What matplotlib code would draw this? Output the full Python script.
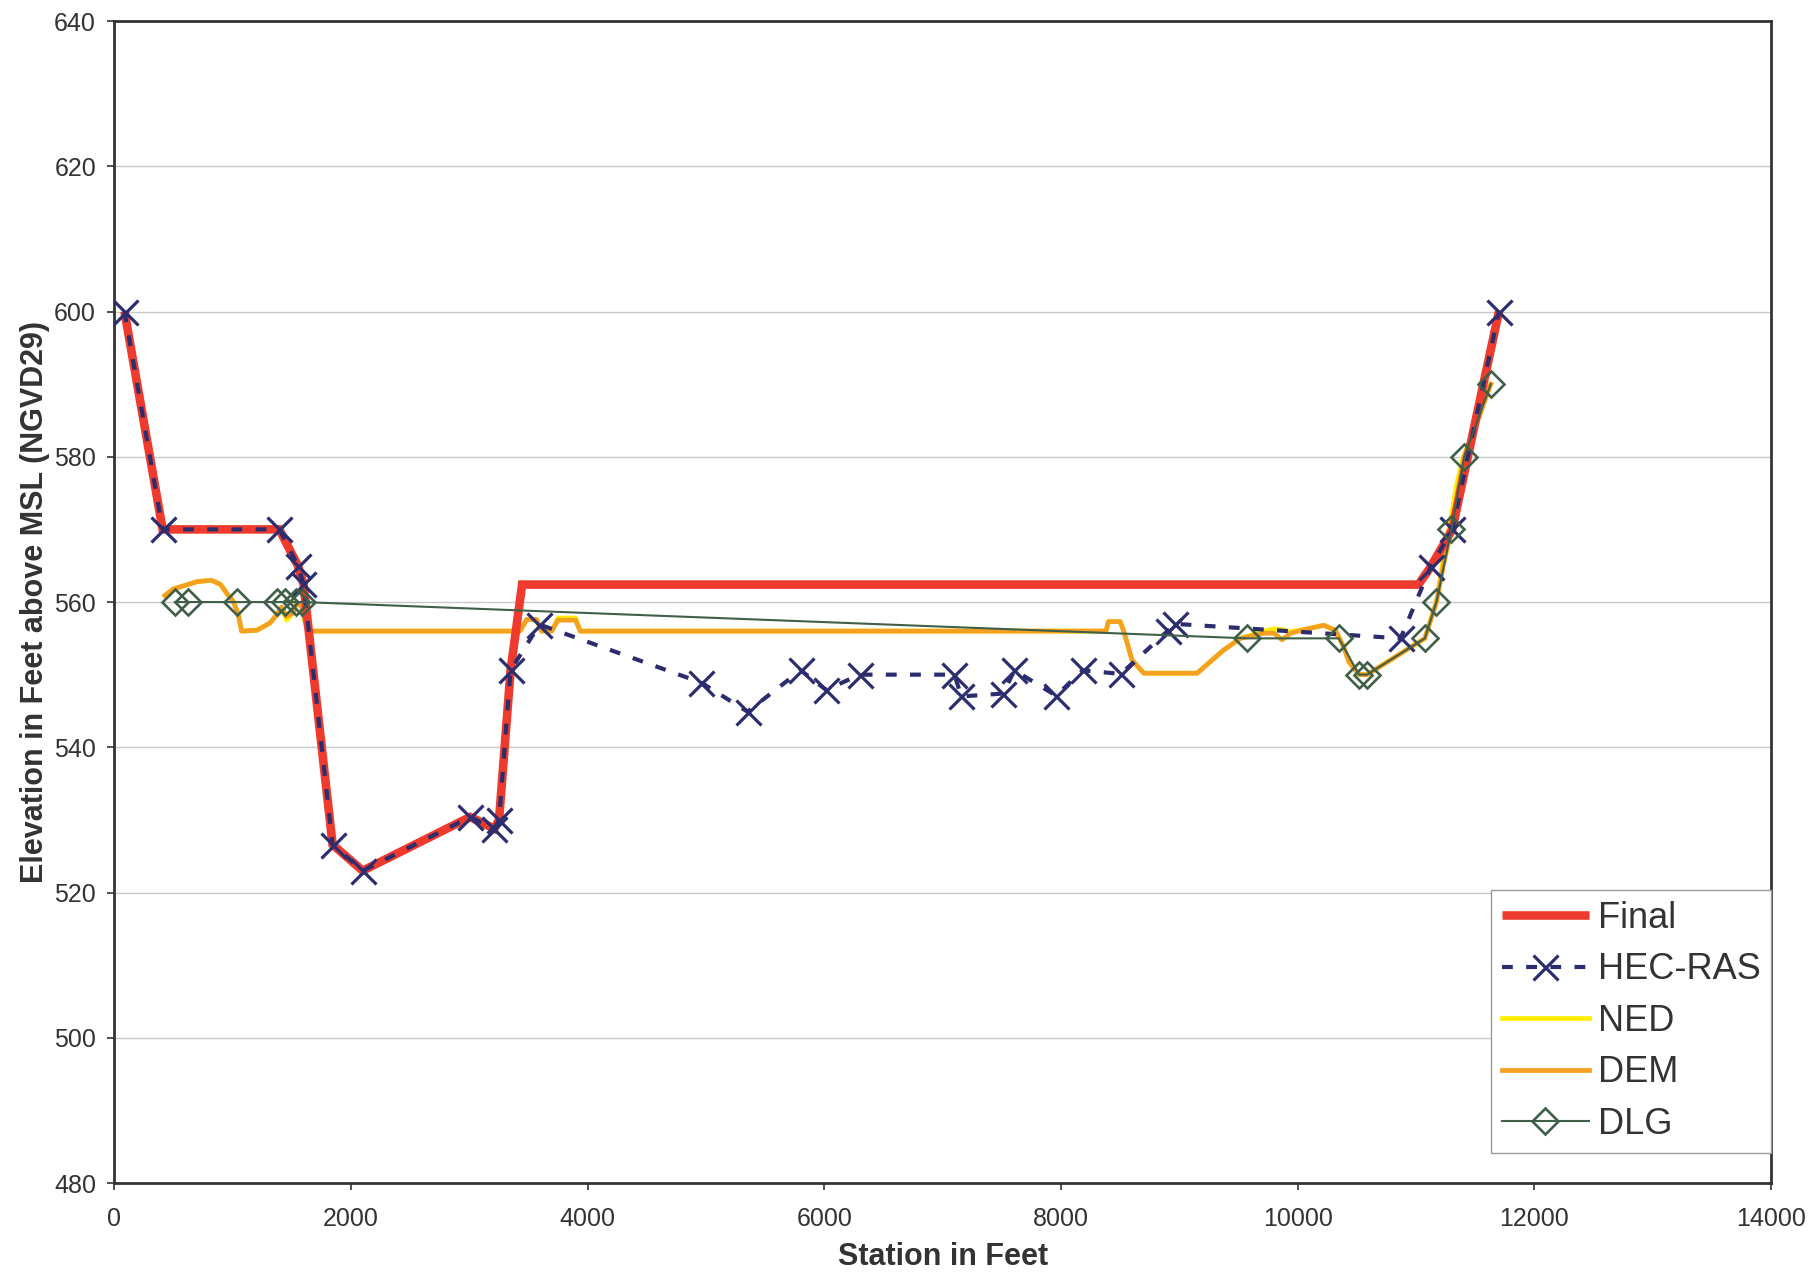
import matplotlib
matplotlib.use("Agg")
import matplotlib.pyplot as plt

plt.rcParams['font.family'] = ['Liberation Sans', 'DejaVu Sans']

# ---- data ----
final_x = [88, 410, 1396, 1553, 1600, 1846, 2100, 3008, 3213, 3252, 3350, 3447,
           11020, 11122, 11306, 11700]
final_y = [600, 570, 570, 565, 562.5, 526.6, 523, 530.4, 528.8, 530, 550.6, 562.4,
           562.4, 564.8, 570, 600]

hec_x = [88, 410, 1396, 1553, 1600, 1846, 2100, 3008, 3213, 3252, 3350, 3594,
         4961, 5352, 5801, 6016, 6299, 7100, 7158, 7510, 7607, 7959, 8184, 8506,
         8900, 8960, 10869, 11122, 11306, 11700]
hec_y = [600, 570, 570, 565, 562.5, 526.6, 523, 530.4, 528.8, 530, 550.6, 556.9,
         548.9, 544.9, 550.6, 547.9, 550, 550, 547, 547.4, 550.6, 547.1, 550.6, 550.1,
         556.0, 557.0, 555, 564.8, 570, 600]

dem_x = [429, 500, 600, 700, 823, 900, 960, 1003, 1048, 1077, 1204, 1316, 1373,
         1415, 1457, 1513, 1541, 1580, 1626, 1654, 3430, 3486, 3570, 3610, 3697,
         3750, 3900, 3937, 8380, 8400, 8500, 8530, 8600, 8700, 9150, 9375, 9516,
         9713, 9800, 9868, 9938, 10079, 10220, 10319, 10389, 10431, 10518, 10586,
         11074, 11172, 11230, 11299, 11350, 11406, 11520, 11631]
dem_y = [560.9, 561.8, 562.3, 562.8, 563.0, 562.4, 561.0, 560.2, 558.4, 556.0,
         556.1, 557.1, 558.2, 559.3, 558.0, 558.5, 559.8, 559.5, 556.6, 556.0,
         556.0, 557.6, 557.6, 556.0, 556.0, 557.5, 557.5, 556.0, 556.0, 557.3,
         557.3, 556.0, 552.0, 550.2, 550.2, 553.4, 555.0, 555.7, 555.7, 554.8,
         555.7, 556.3, 556.8, 556.1, 553.8, 551.8, 550.0, 550.0, 555.0, 560.0,
         565.0, 570.0, 575.0, 580.0, 585.0, 590.0]

ned_x = [429, 500, 600, 700, 823, 900, 960, 1003, 1048, 1077, 1204, 1316, 1373,
         1415, 1457, 1513, 1541, 1580, 1626, 1654, 3430, 3486, 3570, 3610, 3697,
         3750, 3900, 3937, 8380, 8400, 8500, 8530, 8600, 8700, 9150, 9375, 9516,
         9713, 9800, 9868, 9938, 10079, 10220, 10319, 10389, 10431, 10518, 10586,
         11074, 11172, 11230, 11290, 11340, 11400, 11520, 11631]
ned_y = [560.9, 561.8, 562.3, 562.8, 563.0, 562.4, 561.0, 560.2, 558.4, 556.0,
         556.1, 557.1, 558.2, 559.3, 557.5, 558.5, 559.8, 559.5, 556.6, 556.0,
         556.0, 557.6, 557.6, 556.0, 556.0, 557.8, 557.8, 556.0, 556.0, 557.3,
         557.3, 556.0, 552.0, 550.2, 550.2, 553.4, 555.0, 556.0, 556.3, 556.2,
         555.9, 556.3, 556.8, 556.1, 553.8, 551.8, 550.0, 550.0, 555.0, 560.0,
         566.0, 571.0, 576.0, 580.0, 585.0, 590.0]

dlg_x = [513, 626, 1035, 1373, 1443, 1541, 1584, 9572, 10347, 10518, 10586,
         11074, 11172, 11299, 11406, 11631]
dlg_y = [560, 560, 560, 560, 560, 560, 560, 555, 555, 550, 550,
         555, 560, 570, 580, 590]

xticks = list(range(0, 14001, 2000))
yticks = list(range(480, 641, 20))

# ---- figure ----
fig = plt.figure(figsize=(18.11, 12.74), dpi=100)
ax = fig.add_axes([0.063, 0.0714, 0.915, 0.9121])

ax.plot(final_x, final_y, color='#ee3b2e', lw=6.2, solid_capstyle='butt',
        solid_joinstyle='miter', label='Final', zorder=4)
ax.plot(hec_x, hec_y, color='#2b2d6e', lw=3, linestyle=(0, (2.6, 3.2)),
        marker='x', markersize=18, markeredgewidth=2.3, label='HEC-RAS', zorder=5)
ax.plot(ned_x, ned_y, color='#ffee00', lw=3.4, label='NED', zorder=2)
ax.plot(dem_x, dem_y, color='#f5a020', lw=3.4, label='DEM', zorder=3)
ax.plot(dlg_x, dlg_y, color='#3f5f48', lw=1.5, marker='D', markersize=13,
        markerfacecolor='none', markeredgecolor='#3f5f48', markeredgewidth=1.9,
        label='DLG', zorder=6)

ax.set_xlim(0, 14000)
ax.set_ylim(480, 640)
ax.set_xticks(xticks)
ax.set_yticks(yticks)
ax.tick_params(axis='both', labelsize=18, labelcolor='#333333', color='#333333',
               length=5, width=1.2, direction='out')
ax.tick_params(axis='x', pad=12)
ax.tick_params(axis='y', pad=8)
ax.yaxis.grid(True, color='#c8c8c8', lw=1)
ax.set_axisbelow(True)
for s in ax.spines.values():
    s.set_linewidth(2)
    s.set_color('#333333')

ax.set_xlabel('Station in Feet', fontsize=22, fontweight='bold', color='#333333',
              labelpad=8)
ax.set_ylabel('Elevation in Feet above MSL (NGVD29)', fontsize=22,
              fontweight='bold', color='#333333', labelpad=3)

leg = ax.legend(loc='lower right', bbox_to_anchor=(1.0, 0.026), borderaxespad=0,
                fontsize=26, handlelength=2.4, labelspacing=0.46,
                fancybox=False, framealpha=1, edgecolor='#999999',
                borderpad=0.3, handletextpad=0.25)
leg.get_frame().set_linewidth(1)
for t in leg.get_texts():
    t.set_color('#333333')

fig.savefig('out.png', dpi=100)
